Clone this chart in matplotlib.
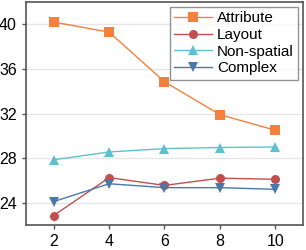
import matplotlib
matplotlib.use("Agg")
import matplotlib.pyplot as plt

x = [2, 4, 6, 8, 10]
attribute = [40.2, 39.3, 34.85, 31.9, 30.5]
layout = [22.85, 26.25, 25.55, 26.2, 26.1]
non_spatial = [27.85, 28.55, 28.85, 28.95, 29.0]
complex_ = [24.1, 25.7, 25.35, 25.35, 25.2]
labels = ["Attribute", "Layout", "Non-spatial", "Complex"]
yticks = [24, 28, 32, 36, 40]
xticks = [2, 4, 6, 8, 10]

plt.rcParams['font.family'] = ['Liberation Sans', 'DejaVu Sans']

fig = plt.figure(figsize=(3.06, 2.50), dpi=100)
ax = fig.add_axes([0.085, 0.10, 0.905, 0.892])

series = [attribute, layout, non_spatial, complex_]
colors = ["#f5803e", "#c0504d", "#5fc1cf", "#4a78ad"]
markers = ["s", "o", "^", "v"]
for ys, c, m, lab in zip(series, colors, markers, labels):
    ax.plot(x, ys, color=c, marker=m, markersize=6.5, linewidth=1.0, label=lab,
            markeredgewidth=0)

ax.set_xlim(1, 11)
ax.set_ylim(22, 42)
ax.set_xticks(xticks)
ax.set_yticks(yticks)
ax.yaxis.grid(True, color="#e6e6e6", linewidth=1.0)
ax.set_axisbelow(True)
for s in ax.spines.values():
    s.set_color("#555555")
    s.set_linewidth(1.2)
ax.tick_params(labelsize=11.5, colors="#555555", labelcolor="black", length=3, width=1)

leg = ax.legend(loc="upper right", fontsize=11, frameon=True, fancybox=False,
                edgecolor="#777777", borderpad=0.3, handlelength=2.5,
                labelspacing=0.18, handletextpad=0.3, borderaxespad=0.3)
leg.get_frame().set_linewidth(1.0)

fig.savefig("out.png", dpi=100)
